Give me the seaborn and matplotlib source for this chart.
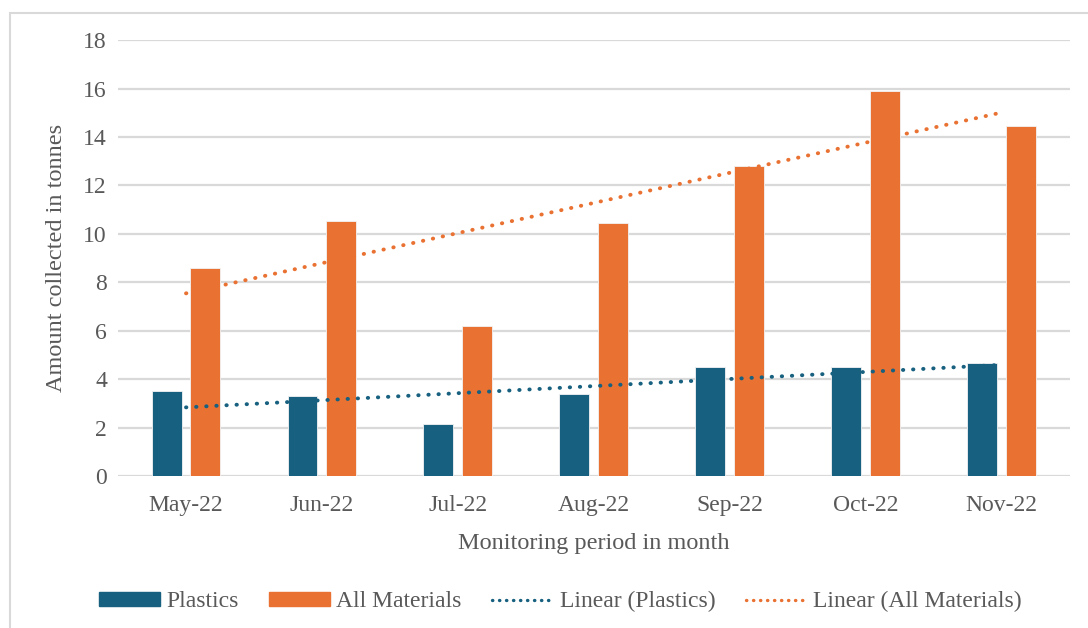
import numpy as np
import pandas as pd
import matplotlib
matplotlib.use("Agg")
import matplotlib.pyplot as plt
import seaborn as sns
from matplotlib.patches import Rectangle, Patch
from matplotlib.lines import Line2D

months = ["May-22", "Jun-22", "Jul-22", "Aug-22", "Sep-22", "Oct-22", "Nov-22"]
plastics = [3.5, 3.3, 2.15, 3.4, 4.5, 4.5, 4.65]
all_materials = [8.6, 10.55, 6.2, 10.45, 12.8, 15.9, 14.45]
series_names = ["Plastics", "All Materials"]
trend_names = ["Linear (Plastics)", "Linear (All Materials)"]
yticks = [0, 2, 4, 6, 8, 10, 12, 14, 16, 18]

blue = "#17607f"
orange = "#e97132"
text_gray = "#595959"
grid_gray = "#d9d9d9"

sns.set_theme(style="white")
plt.rcParams["font.family"] = ["Liberation Serif", "DejaVu Serif"]

df = pd.DataFrame({
    "month": months * 2,
    "value": plastics + all_materials,
    "series": [series_names[0]] * len(months) + [series_names[1]] * len(months),
})

fig = plt.figure(figsize=(10.88, 6.28), dpi=100)
ax = fig.add_axes([0.1085, 0.242, 0.8745, 0.694])

sns.barplot(data=df, x="month", y="value", hue="series", order=months,
            hue_order=series_names, palette=[blue, orange], width=0.572,
            gap=0.23, saturation=1, ax=ax, legend=False, edgecolor="#f3f3f3",
            linewidth=0.6, zorder=2)

xpos = np.arange(len(months))
for vals, col in [(plastics, blue), (all_materials, orange)]:
    slope, intercept = np.polyfit(xpos, vals, 1)
    ax.plot(xpos[[0, -1]], intercept + slope * xpos[[0, -1]], color=col,
            linewidth=2.8, linestyle=(0, (0.1, 2.5)), dash_capstyle="round",
            zorder=3)

ax.set_xlim(-0.5, len(months) - 0.5)
ax.set_ylim(0, 18)
ax.set_yticks(yticks)
ax.yaxis.grid(True, color=grid_gray, linewidth=1.6, zorder=0)
ax.set_axisbelow(True)
for s in ax.spines.values():
    s.set_visible(False)
ax.tick_params(axis="both", length=0, labelsize=17, labelcolor=text_gray, pad=8)
ax.tick_params(axis="x", pad=14)
ax.set_xlabel("Monitoring period in month", fontsize=17.5, color=text_gray, labelpad=12)
ax.set_ylabel("Amount collected in tonnes", fontsize=17.5, color=text_gray, labelpad=12)

handles = [
    Patch(facecolor=blue, edgecolor=blue),
    Patch(facecolor=orange, edgecolor=orange),
    Line2D([], [], color=blue, linewidth=2.4, linestyle=(0, (0.1, 2.0)), dash_capstyle="round"),
    Line2D([], [], color=orange, linewidth=2.4, linestyle=(0, (0.1, 2.0)), dash_capstyle="round"),
]
leg = fig.legend(handles, series_names + trend_names, loc="center",
                 bbox_to_anchor=(0.515, 0.042), ncol=4, frameon=False,
                 fontsize=17, handlelength=2.6, handleheight=0.5,
                 handletextpad=0.25, columnspacing=1.3)
for t in leg.get_texts():
    t.set_color(text_gray)

fig.patches.append(Rectangle((10 / 1088, -0.05), 1.1, 1 - 13 / 628 + 0.05,
                             transform=fig.transFigure, fill=False,
                             edgecolor="#d9d9d9", linewidth=1.5))

fig.savefig("out.png", dpi=100)
